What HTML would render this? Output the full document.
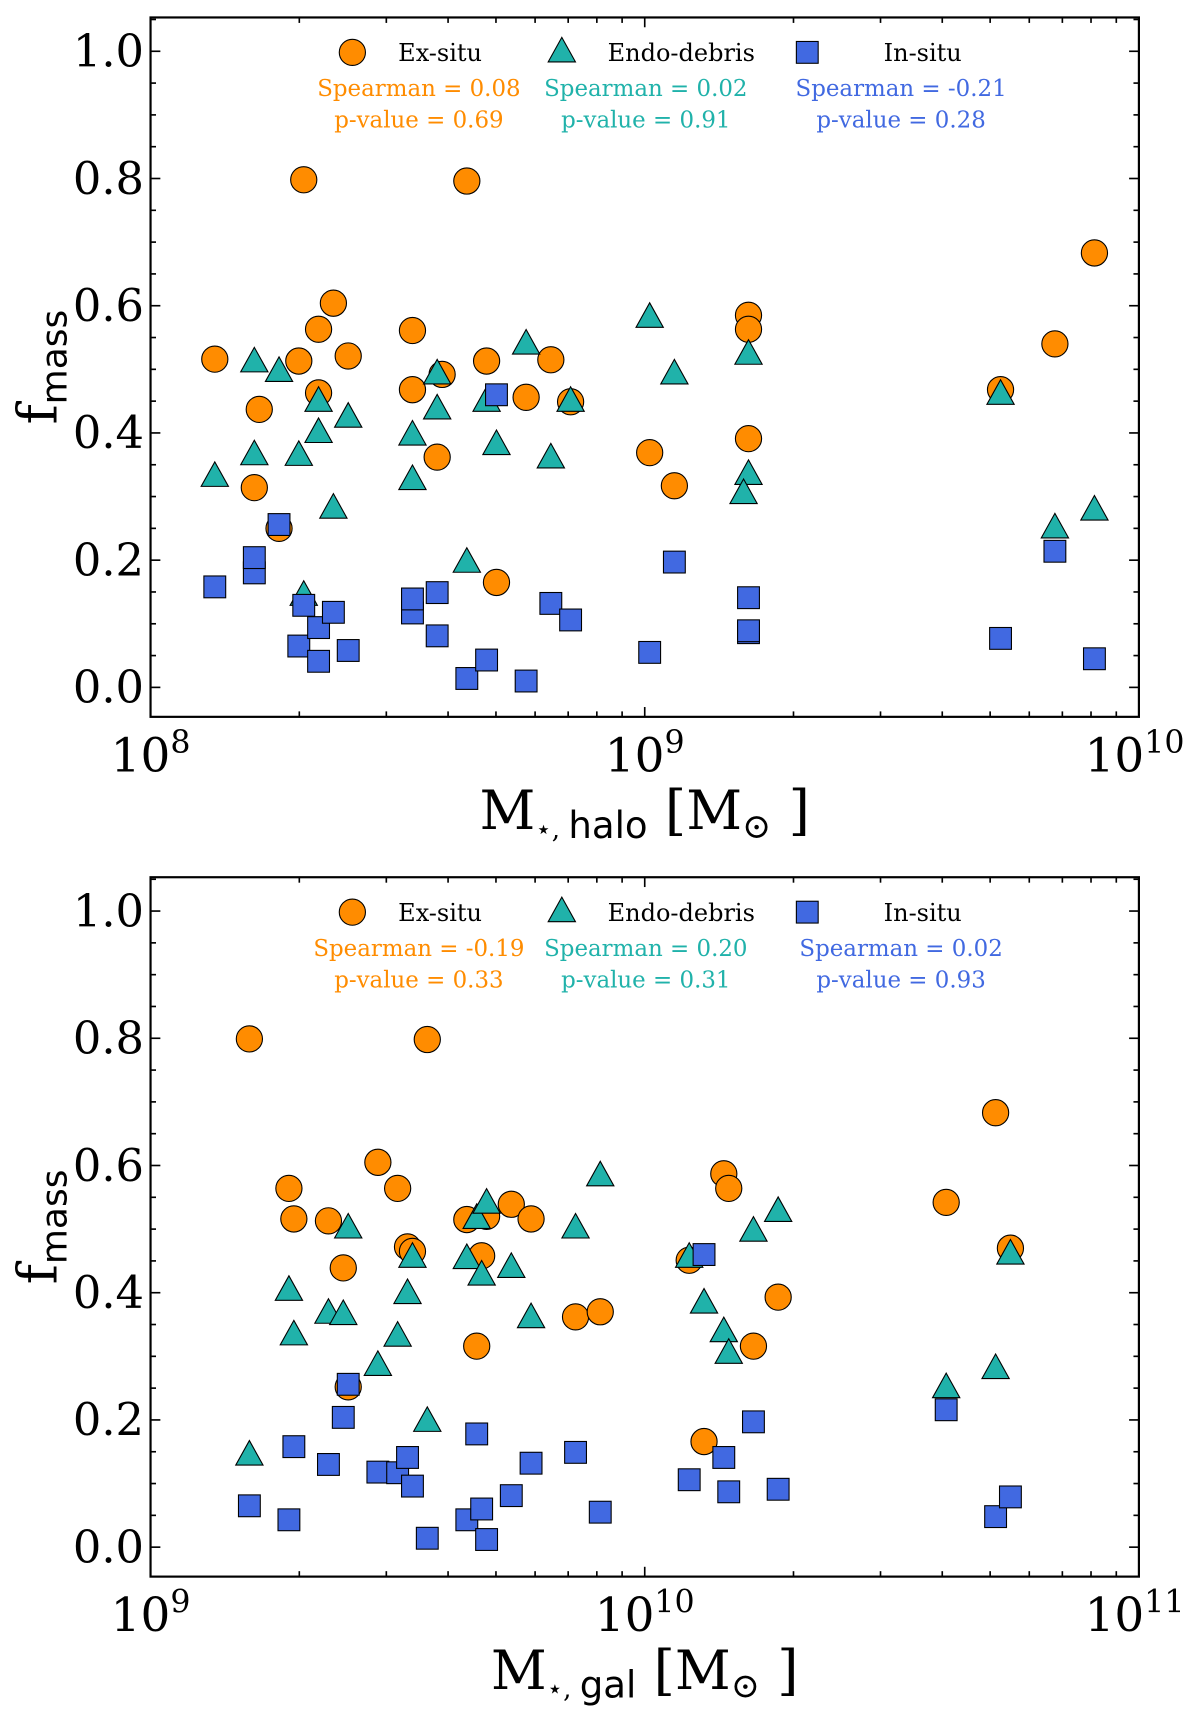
<!DOCTYPE html>
<html><head><meta charset="utf-8">
<style>
html,body{margin:0;padding:0;background:#fff;}
svg{display:block;}
text{font-family:"DejaVu Serif","Liberation Serif",serif;}
.sans{font-family:"DejaVu Sans","Liberation Sans",sans-serif;}
</style></head>
<body>
<svg id="fig" width="1200" height="1713" viewBox="0 0 1100 1570" preserveAspectRatio="none" xmlns="http://www.w3.org/2000/svg"></svg>
<script>
// ---- Top panel data (x = log10 M*,halo) ----
const topExX = [8.13,8.31,8.64,8.22,8.21,8.30,8.34,8.37,8.40,8.34,8.26,8.53,8.53,8.58,8.59,8.68,8.70,8.76,8.81,8.85,9.01,9.06,9.21,9.21,9.21,9.72,9.83,9.91];
const topExY = [0.516,0.798,0.796,0.437,0.314,0.513,0.563,0.604,0.521,0.463,0.250,0.561,0.468,0.362,0.492,0.513,0.165,0.456,0.515,0.449,0.369,0.317,0.585,0.563,0.391,0.468,0.540,0.683];
const topEnX = [8.13,8.21,8.26,8.21,8.30,8.34,8.34,8.37,8.40,8.31,8.53,8.53,8.58,8.58,8.64,8.68,8.70,8.76,8.81,8.85,9.01,9.06,9.21,9.21,9.20,9.72,9.83,9.91];
const topEnY = [0.331,0.511,0.496,0.365,0.364,0.449,0.400,0.281,0.424,0.144,0.326,0.396,0.437,0.492,0.196,0.449,0.381,0.539,0.360,0.449,0.581,0.492,0.523,0.334,0.304,0.460,0.250,0.278];
const topInX = [8.13,8.21,8.21,8.26,8.31,8.30,8.34,8.34,8.37,8.40,8.53,8.53,8.58,8.58,8.64,8.68,8.70,8.76,8.81,8.85,9.01,9.06,9.21,9.21,9.21,9.72,9.83,9.91];
const topInY = [0.158,0.180,0.204,0.256,0.129,0.065,0.094,0.041,0.118,0.058,0.117,0.139,0.149,0.081,0.014,0.043,0.460,0.010,0.132,0.106,0.055,0.197,0.141,0.086,0.089,0.077,0.214,0.045];
// ---- Bottom panel data (x = log10 M*,gal) ----
const botExX = [9.20,9.28,9.29,9.36,9.39,9.46,9.50,9.52,9.53,9.56,9.64,9.68,9.67,9.66,9.73,9.77,9.86,9.91,10.09,10.12,10.16,10.17,10.22,10.27,10.61,10.71,10.74,9.40];
const botExY = [0.799,0.564,0.516,0.513,0.439,0.605,0.564,0.472,0.465,0.798,0.515,0.520,0.458,0.316,0.539,0.516,0.362,0.370,0.451,0.166,0.587,0.564,0.316,0.393,0.542,0.683,0.470,0.252];
const botEnX = [9.20,9.28,9.29,9.36,9.39,9.40,9.46,9.50,9.52,9.53,9.56,9.64,9.66,9.68,9.67,9.73,9.77,9.86,9.91,10.09,10.12,10.16,10.17,10.22,10.27,10.61,10.71,10.74];
const botEnY = [0.144,0.403,0.333,0.367,0.365,0.501,0.285,0.331,0.398,0.455,0.197,0.453,0.516,0.540,0.427,0.439,0.360,0.501,0.583,0.455,0.383,0.338,0.304,0.496,0.527,0.250,0.280,0.460];
const botInX = [9.20,9.28,9.29,9.36,9.39,9.40,9.46,9.50,9.52,9.53,9.56,9.64,9.66,9.67,9.68,9.73,9.77,9.86,9.91,10.09,10.12,10.16,10.17,10.22,10.27,10.61,10.71,10.74];
const botInY = [0.065,0.043,0.158,0.130,0.204,0.256,0.118,0.117,0.141,0.096,0.014,0.043,0.178,0.060,0.012,0.081,0.132,0.149,0.055,0.106,0.460,0.141,0.087,0.197,0.091,0.216,0.048,0.079];
const yTicks = [0.0,0.2,0.4,0.6,0.8,1.0];
const topDecades = [8,9,10];
const botDecades = [9,10,11];
const topStats = ["Spearman = 0.08","p-value = 0.69","Spearman = 0.02","p-value = 0.91","Spearman = -0.21","p-value = 0.28"];
const botStats = ["Spearman = -0.19","p-value = 0.33","Spearman = 0.20","p-value = 0.31","Spearman = 0.02","p-value = 0.93"];

const NS="http://www.w3.org/2000/svg";
const svg=document.getElementById('fig');
const ORANGE="#FF8C00", TEAL="#20B2AA", BLUE="#4169E1";
function mk(tag,attrs,parent){const e=document.createElementNS(NS,tag);for(const k in attrs)e.setAttribute(k,attrs[k]);(parent||svg).appendChild(e);return e;}

function panel(name,top,decades,exX,exY,enX,enY,inX,inY,stats,xlabSub){
  const L=138,R=1044,T=top,B=top+641;
  const g=mk('g',{});
  
  
  const y0=top+614, pxPerUnit=583;
  const ys=v=>y0-v*pxPerUnit;
  const d0=decades[0], per=(R-L)/(decades[2]-decades[0]);
  const xs=lx=>L+(lx-d0)*per;
  const fr=mk('rect',{x:L,y:T,width:R-L,height:B-T,fill:'none',stroke:'#000','stroke-width':2},g);
  
  
  for(let v=-0.05;v<=1.051;v+=0.05){
    const vv=Math.round(v*100)/100; if(vv<-0.046) continue;
    const major=Math.abs(vv*5-Math.round(vv*5))<1e-6;
    const len=major?9:5, y=ys(vv);
    mk('line',{x1:L,y1:y,x2:L+len,y2:y,stroke:'#000','stroke-width':1.5},g);
    mk('line',{x1:R,y1:y,x2:R-len,y2:y,stroke:'#000','stroke-width':1.5},g);
  }
  yTicks.forEach(v=>{
    const t=mk('text',{x:L-6,y:ys(v)+14,'font-size':41,'text-anchor':'end'},g);
    t.textContent=v.toFixed(1);
    
    
  });
  for(let d=decades[0];d<decades[2];d++){
    for(let m=1;m<=9;m++){
      const x=xs(d+Math.log10(m)); const len=m===1?9:5;
      mk('line',{x1:x,y1:B,x2:x,y2:B-len,stroke:'#000','stroke-width':1.5},g);
      mk('line',{x1:x,y1:T,x2:x,y2:T+len,stroke:'#000','stroke-width':1.5},g);
    }
  }
  decades.forEach(d=>{
    const t=mk('text',{x:xs(d)+(d===decades[2]?-4:0),y:B+50,'font-size':43,'text-anchor':'middle'},g);
    
    
    const a=mk('tspan',{},t);a.textContent='10';
    const b=mk('tspan',{dy:-17,'font-size':29},t);b.textContent=String(d);
  });
  const yl=mk('text',{x:0,y:0,'font-size':46,'text-anchor':'middle',transform:`translate(52,${(T+B)/2}) rotate(-90)`},g);
  
  
  const y1=mk('tspan',{'font-size':50},yl);y1.textContent='f';
  const y2=mk('tspan',{class:'sans','font-size':33,dy:9},yl);y2.textContent='mass';
  const xl=mk('text',{x:(L+R)/2,y:B+103,'font-size':50,'text-anchor':'middle'},g);
  
  
  const a1=mk('tspan',{},xl);a1.textContent='M';
  const a2=mk('tspan',{'font-size':24,dy:8},xl);a2.textContent='⋆, ';
  const a3=mk('tspan',{class:'sans','font-size':34},xl);a3.textContent=xlabSub;
  const a4=mk('tspan',{dy:-8},xl);a4.textContent=' [M';
  const a5=mk('tspan',{'font-size':32,dy:8},xl);a5.textContent='⊙';
  const a6=mk('tspan',{dy:-8},xl);a6.textContent=' ]';
  const circle=(x,y,p,nm)=>{const c=mk('circle',{cx:x,cy:y,r:12,fill:ORANGE,stroke:'#000','stroke-width':1},p);};
  const tri=(x,y,p,nm)=>{const s=12.5;const c=mk('polygon',{points:`${x},${y-s*1.1} ${x-s},${y+s*0.7} ${x+s},${y+s*0.7}`,fill:TEAL,stroke:'#000','stroke-width':1},p);};
  const sq=(x,y,p,nm)=>{const c=mk('rect',{x:x-10,y:y-10,width:20,height:20,fill:BLUE,stroke:'#000','stroke-width':1},p);};
  exX.forEach((v,i)=>circle(xs(v),ys(exY[i]),g,'ex-situ-point'));
  enX.forEach((v,i)=>tri(xs(v),ys(enY[i]),g,'endo-debris-point'));
  inX.forEach((v,i)=>sq(xs(v),ys(inY[i]),g,'in-situ-point'));
  const lg=mk('g',{},g);
  
  
  const ly=T+32;
  circle(323,ly,lg,'legend-ex-situ-marker');
  tri(515,ly,lg,'legend-endo-debris-marker');
  sq(740,ly,lg,'legend-in-situ-marker');
  [['Ex-situ',365],['Endo-debris',557],['In-situ',810]].forEach(([s,x])=>{
    const t=mk('text',{x:x,y:ly+8,'font-size':22},lg);t.textContent=s;
    
    
  });
  const cols=[ORANGE,TEAL,BLUE], cx=[384,592,826];
  for(let k=0;k<3;k++){
    for(let j=0;j<2;j++){
      const t=mk('text',{x:cx[k],y:T+72+j*29,'font-size':21,'text-anchor':'middle',fill:cols[k]},lg);
      t.textContent=stats[k*2+j];
      
      
    }
  }
}
panel('top-panel',16,topDecades,topExX,topExY,topEnX,topEnY,topInX,topInY,topStats,'halo');
panel('bottom-panel',804,botDecades,botExX,botExY,botEnX,botEnY,botInX,botInY,botStats,'gal');
</script>
</body></html>
